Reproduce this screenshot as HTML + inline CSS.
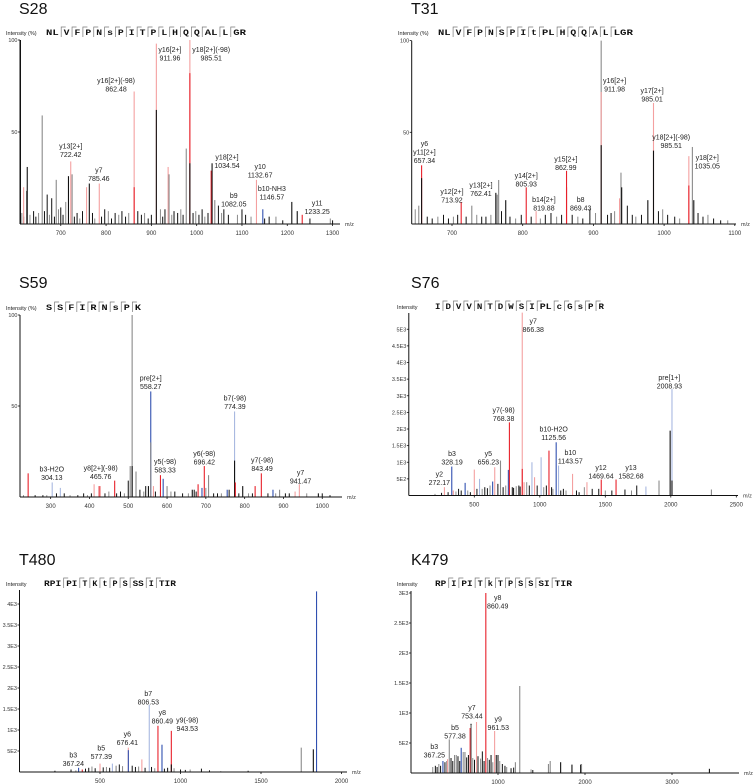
<!DOCTYPE html>
<html><head><meta charset="utf-8"><style>
html,body{margin:0;padding:0;background:#fff;}
svg{display:block;font-family:"Liberation Sans",sans-serif;}
</style></head><body>
<svg id="fig" width="753" height="784" viewBox="0 0 753 784"></svg>
<script>
// ---------- DATA ----------
const s28Mz=[611,659,626,618,690,717,722,725,757,763,785,862,862,911,911,937,939,977,985,985,985,1032,1034,1040,1132,1146,1210,1222,1233];
const s28Int=[100,59,31,20,24,26,34,27,20,22,22,72,20,98,62,31,27,41,100,82,33,29,33,13,24,8,12,7,5];
const s28Col=['k','g','k','p','g','k','p','g','p','k','p','p','r','p','k','p','g','g','p','r','k','r','k','g','p','b','k','k','r'];
const s28NoiseMz=[614,618,625,632,640,645,651,664,670,675,680,686,695,700,705,711,730,736,742,748,770,775,790,797,805,812,820,828,835,843,850,870,878,885,893,900,920,925,930,945,950,958,965,970,992,998,1005,1012,1018,1025,1048,1055,1060,1070,1090,1100,1108,1120,1150,1160,1175,1190,1250,1295,1300];
const s28NoiseInt=[6,4,18,5,7,4,6,7,16,5,14,4,8,9,5,12,4,6,3,7,6,3,4,8,7,3,6,5,7,4,6,7,5,6,3,5,8,4,8,5,7,6,8,5,6,7,5,8,4,6,10,6,8,5,5,8,5,4,3,4,4,2,3,3,2];
const s28LabText=[["y16[2+]","911.96"],["y18[2+](-98)","985.51"],["y16[2+](-98)","862.48"],["y13[2+]","722.42"],["y7","785.46"],["y18[2+]","1034.54"],["y10","1132.67"],["b10-NH3","1146.57"],["b9","1082.05"],["y11","1233.25"]];
const s28LabMz=[941,1032,822,722,784,1067,1140,1166,1082,1266];
const s28LabInt=[93.5,93.5,76.6,41,28,35,30,18,14,10];
const s28XTicks=[700,800,900,1000,1100,1200,1300];
const s28YTicks=[50,100];
const s28YTickLab=["50","100"];

const t31Mz=[653,657,657,713,728,762,764,766,776,805,819,862,862,911,911,911,937,939,940,977,985,985,1035,1035,1040,1042];
const t31Int=[10,32,25,12,10,17,16,24,13,20,7,29,20,100,72,43,14,28,20,13,66,40,37,21,42,13];
const t31Col=['g','r','k','r','g','k','g','g','k','r','p','r','r','g','p','k','p','g','k','k','p','k','p','r','g','k'];
const t31NoiseMz=[648,665,672,680,688,695,702,708,720,735,742,748,755,770,782,790,798,812,825,832,840,848,855,870,878,885,895,903,920,925,930,948,955,960,968,992,998,1005,1015,1022,1048,1055,1062,1070,1080,1090];
const t31NoiseInt=[8,4,3,4,5,3,4,5,4,5,4,4,5,7,4,3,5,4,3,5,6,4,5,5,4,3,8,6,5,6,7,10,5,4,5,7,8,5,4,3,6,4,5,3,2,2];
const t31LabText=[["y6","y11[2+]","657.34"],["y12[2+]","713.92"],["y13[2+]","762.41"],["y14[2+]","805.93"],["b14[2+]","819.88"],["y15[2+]","862.99"],["b8","869.43"],["y16[2+]","911.98"],["y17[2+]","985.01"],["y18[2+](-98)","985.51"],["y18[2+]","1035.05"]];
const t31LabMz=[661,700,741,805,830,861,882,930,983,1010,1061];
const t31LabInt=[42.5,16.4,20,25,12,34,12,77,71.5,46,35];
const t31XTicks=[700,800,900,1000,1100];
const t31YTicks=[50,100];
const t31YTickLab=["50","100"];

const s59Mz=[242,304,325,412,425,428,465,505,510,510,520,552,558,558,565,583,590,600,665,680,690,696,707,755,774,774,776,795,827,843,873,890,930,941,990];
const s59Int=[13,8,5,7,6,6,9,17,100,17,14,6,58,30,6,12,10,6,4,7,5,17,12,4,47,20,8,6,6,13,4,4,3,7,2];
const s59Col=['r','l','l','p','r','p','r','g','g','k','g','k','b','g','p','r','b','g','k','r','b','r','g','b','l','k','r','k','r','r','b','g','p','p','k'];
const s59NoiseMz=[230,260,280,290,315,335,350,370,385,395,405,440,450,470,480,490,500,530,540,545,570,610,620,640,655,670,675,700,720,730,740,760,785,810,820,860,880,905,915,960,1000,1020];
const s59NoiseInt=[1,1,1,1,2,2,1,1,2,1,2,2,3,2,3,2,9,4,3,6,3,3,3,2,2,4,3,5,2,2,2,4,2,2,2,2,2,2,2,2,2,1];
const s59LabText=[["pre[2+]","558.27"],["b7(-98)","774.39"],["y6(-98)","696.42"],["y5(-98)","583.33"],["y7(-98)","843.49"],["y8[2+](-98)","465.76"],["b3-H2O","304.13"],["y7","941.47"]];
const s59LabMz=[558,775,696,595,845,429,303,944];
const s59LabInt=[64,53,22.5,18,19,14.5,14,12];
const s59XTicks=[300,400,500,600,700,800,900,1000];
const s59YTicks=[50,100];
const s59YTickLab=["50","100"];

const s76Mz=[272,328,340,430,500,540,640,656,700,760,768,866,866,880,940,960,1010,1070,1125,1143,1250,1360,1469,1582,1810,1910,1995,2009,2009,2310];
const s76Int=[250,870,150,380,780,500,420,850,1050,770,2200,5500,800,400,1000,550,1150,1350,1600,900,650,400,480,480,270,450,1950,3200,450,180];
const s76Col=['p','b','p','b','p','l','b','p','g','b','r','p','r','p','l','p','l','r','b','l','p','p','r','r','l','g','k','l','k','g'];
const s76NoiseMz=[200,250,300,360,380,400,450,470,520,560,580,600,620,680,720,740,790,800,820,840,850,900,920,980,1030,1050,1090,1100,1160,1180,1200,1280,1300,1340,1400,1450,1500,1550,1650,1700,1740];
const s76NoiseInt=[50,80,100,120,200,150,150,100,200,200,250,220,300,350,250,300,250,230,280,300,270,400,300,300,250,300,250,200,150,200,150,150,100,250,200,200,150,150,180,150,300];
const s76LabText=[["y7","866.38"],["pre[1+]","2008.93"],["y7(-98)","768.38"],["b10-H2O","1125.56"],["b10","1143.57"],["b3","328.19"],["y5","656.23"],["y12","1469.64"],["y13","1582.68"],["y2","272.17"]];
const s76LabMz=[950,1989,724,1106,1233,330,607,1467,1696,233];
const s76LabInt=[5180,3470,2490,1920,1220,1190,1190,770,770,565];
const s76XTicks=[500,1000,1500,2000,2500];
const s76YTicks=[500,1000,1500,2000,2500,3000,3500,4000,4500,5000];
const s76YTickLab=["5E2","1E3","1.5E3","2E3","2.5E3","3E3","3.5E3","4E3","4.5E3","5E3"];

const t480Mz=[367,390,500,577,600,676,676,760,806,860,885,943,943,1750,1825,1845];
const t480Int=[100,60,200,200,150,580,520,300,1600,1100,650,980,180,580,540,4300];
const t480Col=['b','r','p','l','g','p','b','p','l','r','b','r','k','g','k','b'];
const t480NoiseMz=[150,220,320,350,410,430,450,470,520,540,560,620,640,700,720,740,780,820,840,900,920,960,1000,1030,1060,1130,1180,1250,1420];
const t480NoiseInt=[10,30,60,40,80,100,130,90,110,120,100,180,140,150,120,130,100,120,90,80,100,90,60,50,60,80,40,20,30];
const t480LabText=[["b7","806.53"],["y8","860.49"],["y9(-98)","943.53"],["y6","676.41"],["b5","577.39"],["b3","367.24"]];
const t480LabMz=[800,887,1042,670,508,334];
const t480LabInt=[1810,1357,1175,840,508,350];
const t480XTicks=[500,1000,1500,2000];
const t480YTicks=[500,1000,1500,2000,2500,3000,3500,4000];
const t480YTickLab=["5E2","1E3","1.5E3","2E3","2.5E3","3E3","3.5E3","4E3"];

const k479Mz=[367,420,440,520,577,620,680,690,692,753,860,961,1200,1250,1580,1600,1720,1850,1950,1960,3430];
const k479Int=[200,230,560,300,420,350,750,820,800,850,3000,700,180,1450,150,200,180,140,140,150,70];
const k479Col=['b','p','g','g','b','g','r','k','g','p','r','p','g','g','g','g','k','k','k','g','k'];
const k479NoiseMz=[250,280,300,320,340,390,410,460,480,500,540,560,600,640,660,710,730,770,800,820,840,880,900,920,940,980,1000,1020,1050,1080,1100,1150,1180,1380,1400];
const k479NoiseInt=[100,120,100,150,120,180,200,250,200,300,280,200,350,260,300,250,220,280,240,360,200,250,220,300,180,300,300,200,150,120,100,80,90,60,50];
const k479LabText=[["y8","860.49"],["y7","753.44"],["y9","961.53"],["b5","577.38"],["b3","367.25"]];
const k479LabMz=[996,701,1003,506,268];
const k479LabInt=[2880,1050,855,716,400];
const k479XTicks=[1000,2000,3000];
const k479YTicks=[500,1000,1500,2000,2500,3000];
const k479YTickLab=["5E2","1E3","1.5E3","2E3","2.5E3","3E3"];

// ---------- RENDER ----------
const NS="http://www.w3.org/2000/svg";
const svg=document.getElementById('fig');
const COL={k:'#111',g:'#8a8a8a',r:'#e8202a',p:'#f4a0a0',b:'#3050b0',l:'#a8b8e0'};
function mk(tag,attrs,parent){const e=document.createElementNS(NS,tag);for(const k in attrs)e.setAttribute(k,attrs[k]);(parent||svg).appendChild(e);return e;}

function panel(cfg){
  const g=mk('g',{});
  
  
  const xs=m=>cfg.x0+(m-cfg.mz0)*cfg.kx;
  const ys=v=>cfg.base-v*cfg.ky;
  // title
  const t=mk('text',{x:cfg.tx,y:cfg.ty,'font-size':16,fill:'#111'},g);t.textContent=cfg.id;
  
  // intensity label
  const il=mk('text',{x:cfg.ilx,y:cfg.seqY,'font-size':5.5,fill:'#222'},g);il.textContent=cfg.ilab;
  
  // sequence
  const toks=cfg.seq.split(' ');const C=toks.join('').length;const gap=4;
  const cw=(cfg.seqX1-cfg.seqX0-(toks.length-1)*gap)/C;
  let sx=cfg.seqX0;
  const sg=mk('g',{},g);
  toks.forEach((tk,i)=>{
    const tt=mk('text',{x:sx,y:cfg.seqY,'font-size':Math.min(8,cw*1.55),'font-family':'Liberation Mono, monospace','font-weight':'bold',fill:'#111',textLength:tk.length*cw-1,lengthAdjust:'spacingAndGlyphs'},sg);tt.textContent=tk;
    if(i>0){mk('path',{d:`M${sx-2.5},${cfg.seqY+2}V${cfg.seqY-8}H${sx+2}`,stroke:'#777','stroke-width':0.7,fill:'none'},sg);}
    sx+=tk.length*cw+gap;
  });
  // noise peaks
  const pg=mk('g',{},g);
  cfg.nMz.forEach((m,i)=>{
    const l=mk('line',{x1:xs(m),x2:xs(m),y1:cfg.base,y2:ys(cfg.nInt[i]),stroke:i%3==0?COL.g:COL.k,'stroke-width':1},pg);
    
  });
  cfg.mz.forEach((m,i)=>{
    const l=mk('line',{x1:xs(m),x2:xs(m),y1:cfg.base,y2:ys(cfg.int[i]),stroke:COL[cfg.col[i]],'stroke-width':1.1},pg);
    
  });
  // axes
  mk('line',{x1:cfg.x0,x2:cfg.x0,y1:cfg.base,y2:cfg.ytop,stroke:'#111','stroke-width':1},g);
  mk('line',{x1:cfg.x0,x2:cfg.xend,y1:cfg.base,y2:cfg.base,stroke:'#111','stroke-width':1},g);
  cfg.xt.forEach(v=>{
    mk('line',{x1:xs(v),x2:xs(v),y1:cfg.base,y2:cfg.base+2,stroke:'#111','stroke-width':0.8},g);
    const tl=mk('text',{x:xs(v),y:cfg.base+11,'font-size':6,'text-anchor':'middle',fill:'#333'},g);tl.textContent=v;
    
  });
  cfg.yt.forEach((v,i)=>{
    mk('line',{x1:cfg.x0-2,x2:cfg.x0,y1:ys(v),y2:ys(v),stroke:'#111','stroke-width':0.8},g);
    const tl=mk('text',{x:cfg.x0-2.5,y:ys(v)+2,'font-size':5.5,'text-anchor':'end',fill:'#333'},g);tl.textContent=cfg.ytl[i];
    
  });
  const mzl=mk('text',{x:cfg.xend+5,y:cfg.base+2,'font-size':5.5,fill:'#333'},g);mzl.textContent='m/z';
  
  // labels
  cfg.lt.forEach((lines,i)=>{
    const tg=mk('text',{x:xs(cfg.lm[i]),y:ys(cfg.li[i]),'font-size':7,'text-anchor':'middle',fill:'#222'},g);
    
    lines.forEach((s,j)=>{const sp=mk('tspan',{x:xs(cfg.lm[i]),dy:j?8.5:0},tg);sp.textContent=s;});
  });
}

panel({id:'S28',tx:19,ty:14,ilab:'Intensity (%)',ilx:6,seq:'NL V F P N s P I T P L H Q Q AL L GR',seqX0:46,seqX1:247,seqY:35,
  x0:20,mz0:610,kx:0.453,base:224,ky:1.84,ytop:40,xend:340,
  mz:s28Mz,int:s28Int,col:s28Col,nMz:s28NoiseMz,nInt:s28NoiseInt,lt:s28LabText,lm:s28LabMz,li:s28LabInt,xt:s28XTicks,yt:s28YTicks,ytl:s28YTickLab});
panel({id:'T31',tx:411,ty:14,ilab:'Intensity (%)',ilx:398,seq:'NL V F P N S P I t PL H Q Q A L LGR',seqX0:438,seqX1:634,seqY:35,
  x0:411.7,mz0:643,kx:0.707,base:224,ky:1.834,ytop:40.7,xend:736,
  mz:t31Mz,int:t31Int,col:t31Col,nMz:t31NoiseMz,nInt:t31NoiseInt,lt:t31LabText,lm:t31LabMz,li:t31LabInt,xt:t31XTicks,yt:t31YTicks,ytl:t31YTickLab});
panel({id:'S59',tx:19,ty:288,ilab:'Intensity (%)',ilx:6,seq:'S S F I R N s P K',seqX0:46,seqX1:142,seqY:310,
  x0:20,mz0:221,kx:0.388,base:497,ky:1.82,ytop:315,xend:342,
  mz:s59Mz,int:s59Int,col:s59Col,nMz:s59NoiseMz,nInt:s59NoiseInt,lt:s59LabText,lm:s59LabMz,li:s59LabInt,xt:s59XTicks,yt:s59YTicks,ytl:s59YTickLab});
panel({id:'S76',tx:411,ty:288,ilab:'Intensity',ilx:397,seq:'I D V V N T D W S I PL c G s P R',seqX0:435,seqX1:605,seqY:309,
  x0:408.8,mz0:0,kx:0.131,base:495.5,ky:0.03325,ytop:313,xend:738,
  mz:s76Mz,int:s76Int,col:s76Col,nMz:s76NoiseMz,nInt:s76NoiseInt,lt:s76LabText,lm:s76LabMz,li:s76LabInt,xt:s76XTicks,yt:s76YTicks,ytl:s76YTickLab});
panel({id:'T480',tx:19,ty:565,ilab:'Intensity',ilx:6,seq:'RPI PI T K t P S SS I TIR',seqX0:44,seqX1:177,seqY:586,
  x0:19.5,mz0:0,kx:0.161,base:772,ky:0.042,ytop:590,xend:347,
  mz:t480Mz,int:t480Int,col:t480Col,nMz:t480NoiseMz,nInt:t480NoiseInt,lt:t480LabText,lm:t480LabMz,li:t480LabInt,xt:t480XTicks,yt:t480YTicks,ytl:t480YTickLab});
panel({id:'K479',tx:411,ty:565,ilab:'Intensity',ilx:397,seq:'RP I PI T k T P S S SI TIR',seqX0:435,seqX1:573,seqY:586,
  x0:411,mz0:0,kx:0.087,base:773,ky:0.06,ytop:591,xend:739,
  mz:k479Mz,int:k479Int,col:k479Col,nMz:k479NoiseMz,nInt:k479NoiseInt,lt:k479LabText,lm:k479LabMz,li:k479LabInt,xt:k479XTicks,yt:k479YTicks,ytl:k479YTickLab});
</script>
</body></html>
